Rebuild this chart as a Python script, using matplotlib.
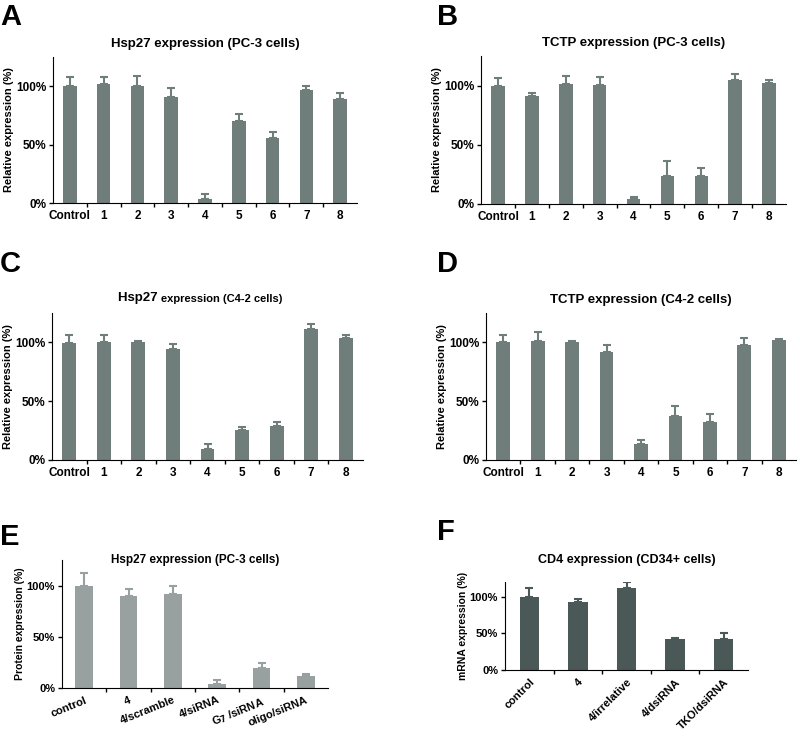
import matplotlib.pyplot as plt
import matplotlib.ticker as mticker
import numpy as np

plt.rcParams['font.family'] = ['Liberation Sans', 'DejaVu Sans']
plt.rcParams['font.weight'] = 'bold'

# data (percent, upper error)
cats_ad = ['Control', '1', '2', '3', '4', '5', '6', '7', '8']
hsp27_pc3 = [100, 102, 100, 91, 3.5, 70, 56, 97, 89]
hsp27_pc3_err = [7.5, 6, 8.5, 7.5, 4, 6, 5, 3, 5]
tctp_pc3 = [100, 91.5, 101.5, 100.5, 4, 24, 24, 105, 102]
tctp_pc3_err = [6.5, 2, 7, 6.5, 1.5, 12, 6.5, 5, 3]
hsp27_c42 = [99.5, 100, 100, 94, 9.5, 25.5, 28.5, 111, 104]
hsp27_c42_err = [6.5, 6.5, 1.5, 5, 4.5, 2.5, 3.5, 4.5, 2]
tctp_c42 = [100, 101.5, 100, 92, 13.5, 37, 32.5, 98, 102]
tctp_c42_err = [6, 7.5, 1.5, 6, 3.5, 9, 6.5, 5.5, 1]

cats_e = ['control', '4', '4/scramble', '4/siRNA', 'G$_7$ /siRNA', 'oligo/siRNA']
hsp27_prot = [100, 90, 91.5, 4, 20, 11.5]
hsp27_prot_err = [12.5, 7, 8, 4, 4, 2]

cats_f = ['control', '4', '4/irrelative', '4/dsiRNA', 'TKO/dsiRNA']
cd4_mrna = [100, 92.5, 112.5, 42, 42]
cd4_mrna_err = [12.5, 4, 7, 2, 8]

W, H = 800, 736
fig = plt.figure(figsize=(W / 100, H / 100), dpi=100)


def make_ax(left, right, top, bottom):
    return fig.add_axes([left / W, 1 - bottom / H, (right - left) / W, (bottom - top) / H])


def style(ax, cats, ymax, ylabel, rot=0, fs_lab=8.5, fs_y=8.5, fs_yl=8):
    n = len(cats)
    ax.set_xlim(-0.5, n - 0.5)
    ax.set_ylim(0, ymax)
    for s in ['top', 'right']:
        ax.spines[s].set_visible(False)
    ax.set_yticks([0, 50, 100])
    ax.yaxis.set_major_formatter(mticker.FuncFormatter(lambda v, p: '%d%%' % v))
    ax.tick_params(axis='y', labelsize=fs_y, length=3, width=1, pad=2)
    ax.set_xticks(range(n))
    if rot:
        ax.set_xticklabels(cats, rotation=rot, ha='right', rotation_mode='anchor', fontsize=fs_lab)
    else:
        ax.set_xticklabels(cats, fontsize=fs_lab)
    ax.tick_params(axis='x', which='major', length=0, pad=5)
    ax.set_xticks(np.arange(0.5, n - 0.5, 1), minor=True)
    ax.tick_params(axis='x', which='minor', length=3, width=1)
    ax.set_ylabel(ylabel, fontsize=fs_yl, fontweight='bold', labelpad=1)


def bars(ax, vals, errs, color):
    x = np.arange(len(vals))
    ax.bar(x, vals, width=0.4, color=color,
           yerr=[np.zeros(len(errs)), errs],
           error_kw=dict(ecolor=color, elinewidth=1.5, capsize=3, capthick=1.5))


grey = '#6f7e7b'

# A
ax = make_ax(53, 357, 57, 203)
bars(ax, hsp27_pc3, hsp27_pc3_err, grey)
style(ax, cats_ad, 125, 'Relative expression (%)')
ax.set_title('Hsp27 expression (PC-3 cells)', fontsize=9.5, fontweight='bold', pad=7)

# B
ax = make_ax(481, 786, 56, 204)
bars(ax, tctp_pc3, tctp_pc3_err, grey)
style(ax, cats_ad, 125, 'Relative expression (%)')
ax.set_title('TCTP expression (PC-3 cells)', fontsize=9.5, fontweight='bold', pad=7)

# C
ax = make_ax(52, 363, 313, 460)
bars(ax, hsp27_c42, hsp27_c42_err, grey)
style(ax, cats_ad, 125, 'Relative expression (%)', fs_y=8.5)
ax.text(0.35, 1.06, 'Hsp27 ', transform=ax.transAxes, ha='right', va='bottom',
        fontsize=9.5, fontweight='bold')
ax.text(0.35, 1.06, 'expression (C4-2 cells)', transform=ax.transAxes, ha='left', va='bottom',
        fontsize=8, fontweight='bold')

# D
ax = make_ax(486, 796, 313, 460)
bars(ax, tctp_c42, tctp_c42_err, grey)
style(ax, cats_ad, 125, 'Relative expression (%)')
ax.set_title('TCTP expression (C4-2 cells)', fontsize=9.5, fontweight='bold', pad=7)

# E
ax = make_ax(62, 328, 560, 688)
bars(ax, hsp27_prot, hsp27_prot_err, '#98a19f')
style(ax, cats_e, 125, 'Protein expression (%)', rot=22, fs_lab=8, fs_y=8, fs_yl=7.5)
ax.text(0.5, 1.0, 'Hsp27 expression (PC-3 cells)', transform=ax.transAxes, ha='center',
        va='center', fontsize=8.5, fontweight='bold')

# F
ax = make_ax(505, 748, 582, 670)
bars(ax, cd4_mrna, cd4_mrna_err, '#4b5858')
style(ax, cats_f, 120, 'mRNA expression (%)', rot=45, fs_lab=8, fs_y=8, fs_yl=7.5)
ax.set_title('CD4 expression (CD34+ cells)', fontsize=9, fontweight='bold', pad=14)

# panel letters
for lab, x, y in [('A', 0, 3), ('B', 437, 3), ('C', 0, 250), ('D', 437, 250),
                  ('E', 0, 523), ('F', 437, 518)]:
    fig.text(x / W, 1 - y / H, lab, fontsize=21, fontweight='bold', va='top', ha='left')

fig.savefig('out.png', dpi=100)
